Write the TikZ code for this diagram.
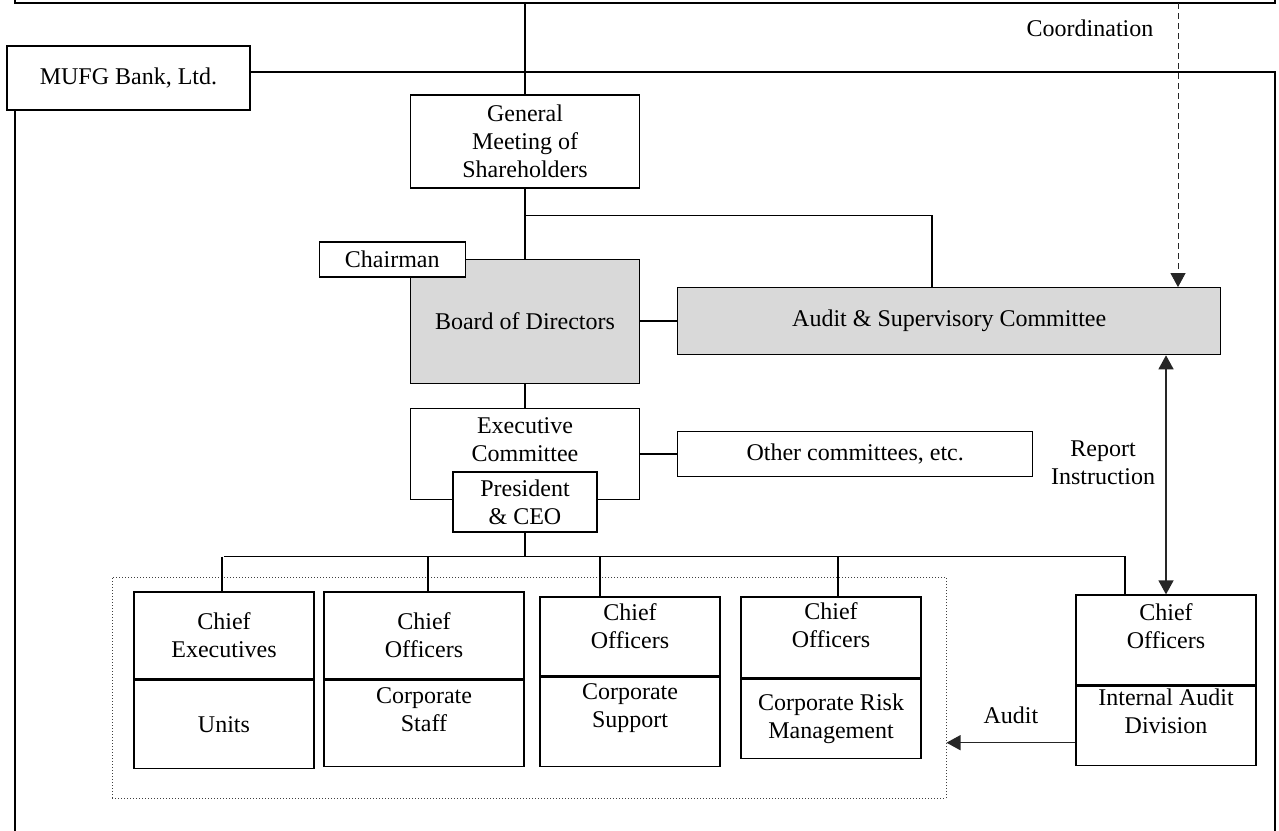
\documentclass[tikz,border=0pt]{standalone}
\usepackage{fontspec}
\setmainfont{Liberation Serif}
\usetikzlibrary{arrows.meta,positioning,calc}

\begin{document}
\begin{tikzpicture}[
        x=0.5pt, y=-0.5pt,
        >={Triangle[length=7pt,width=7.5pt]},
        node distance=20pt,
        box/.style={
            draw=black,
            line width=0.6pt,
            fill=white,
            align=center,
            inner sep=2pt,
            font=\fontsize{12}{14}\selectfont
        },
        greybox/.style={box, fill=black!15},
        cell/.style={box, minimum width=90pt},
        txt/.style={align=center, inner sep=0pt, font=\fontsize{12}{14}\selectfont},
        outline/.style={draw=black, line width=0.6pt},
        grpbox/.style={draw=black!75, densely dotted, line width=0.5pt},
        link/.style={draw=black, line width=0.8pt},
        line/.style={draw=black!85, line width=0.7pt, ->}
    ]
        \useasboundingbox (0,0) rectangle (1279,830);

        % holding company (cut off) and bank frame
        \draw[outline] (15,-5) |- (1275,3) -- (1275,-5);
        \coordinate (hold) at (525,3);
        \coordinate (holdc) at (1178,3);
        \draw[outline] (250,72) -| (1275,840);
        \draw[outline] (15,110) -- (15,840);
        \node[box, minimum width=121.5pt, minimum height=32pt] (bank) at (128.5,78) {MUFG Bank, Ltd.};
        \node[txt] (coordlbl) at (1090,28) {Coordination};

        % governance column
        \node[box, minimum width=114.5pt, minimum height=46.5pt] (gm) at (525,141.5) {General\\Meeting of\\Shareholders};
        \node[greybox, minimum width=114.5pt, minimum height=62pt, below=35pt of gm] (board) {Board of Directors};
        \node[box, minimum width=73pt, minimum height=17.5pt, anchor=south east] (chair) at ($(board.north west)+(56,19)$) {Chairman};
        \node[greybox, minimum width=271.5pt, minimum height=33.5pt, right=18.5pt of board] (asc) {Audit \& Supervisory Committee};
        \node[box, minimum width=114.5pt, minimum height=45.5pt, below=12pt of board] (exec) {};
        \node[txt, yshift=7pt] (exectxt) at (exec) {Executive\\Committee};
        \node[box, minimum width=72pt, minimum height=30pt] (pres) at ($(exec.south)+(0,2)$) {President\\\& CEO};
        \node[box, minimum width=177.5pt, minimum height=22.5pt, right=18.5pt of exec] (other) {Other committees, etc.};

        % business groups
        \node[grpbox, minimum width=417pt, minimum height=110.5pt] (grp) at (529,687.5) {};
        \node[cell, minimum height=43.5pt] (ce) at (224,635.5) {Chief\\Executives};
        \node[cell, minimum height=44pt, below=0pt of ce] (units) {Units};
        \node[cell, minimum width=100pt, minimum height=43.5pt] (cs) at (424,635.5) {Chief\\Officers};
        \node[cell, minimum width=100pt, minimum height=43pt, below=0pt of cs] (staff) {};
        \node[txt, yshift=7pt] (stafftxt) at (staff) {Corporate\\Staff};
        \node[cell, minimum height=39.5pt] (csup) at (630,636.5) {};
        \node[txt, yshift=5pt] (csuptxt) at (csup) {Chief\\Officers};
        \node[cell, minimum height=44.5pt, below=0pt of csup] (supp) {};
        \node[txt, yshift=7pt] (supptxt) at (supp) {Corporate\\Support};
        \node[cell, minimum height=40.5pt] (crm) at (831,637.5) {};
        \node[txt, yshift=6pt] (crmtxt) at (crm) {Chief\\Officers};
        \node[cell, minimum height=39.5pt, below=0pt of crm] (risk) {Corporate Risk\\Management};
        \node[cell, minimum height=45pt] (ia) at (1166,640) {};
        \node[txt, yshift=7pt] (iatxt) at (ia) {Chief\\Officers};
        \node[cell, minimum height=39.5pt, below=0pt of ia] (iad) {};
        \node[txt, yshift=7pt] (iadtxt) at (iad) {Internal Audit\\Division};

        % connectors
        \draw[link] (hold) -- (gm.north);
        \draw[line, densely dashed, line width=0.4pt] (holdc) -- (holdc |- asc.north);
        \draw[link] (gm.south) -- (board.north);
        \coordinate (fork) at ($(gm.south)+(0,27)$);
        \draw[link] (fork) -| ($(asc.north west)+(255,0)$);
        \draw[link] (board.east) -- (asc.west);
        \draw[link] (board.south) -- (exec.north);
        \draw[link] (exec.east) -- (exec.east -| other.west);
        \coordinate (bus) at ($(pres.south)+(0,24)$);
        \draw[link] (pres.south) -- (bus);
        \coordinate (iadrop) at ($(ia.north)+(-41,0)$);
        \draw[link] (ce.north |- bus) -| (iadrop);
        \foreach \c/\dx in {ce/-2, cs/4, csup/-30, crm/7} {
            \coordinate (drop) at ($(\c.north)+(\dx,0)$);
            \draw[link] (drop |- bus) -- (drop);
        }
        \draw[line, <->] (ia.north |- asc.south) -- (ia.north);
        \node[txt] (replbl) at (1103,463) {Report\\Instruction};
        \coordinate (auditsrc) at ($(iad.west)+(0,17)$);
        \draw[line] (auditsrc) -- (auditsrc -| grp.east) node[txt, midway, above=9pt] (auditlbl) {Audit};
    \end{tikzpicture}
\end{document}
